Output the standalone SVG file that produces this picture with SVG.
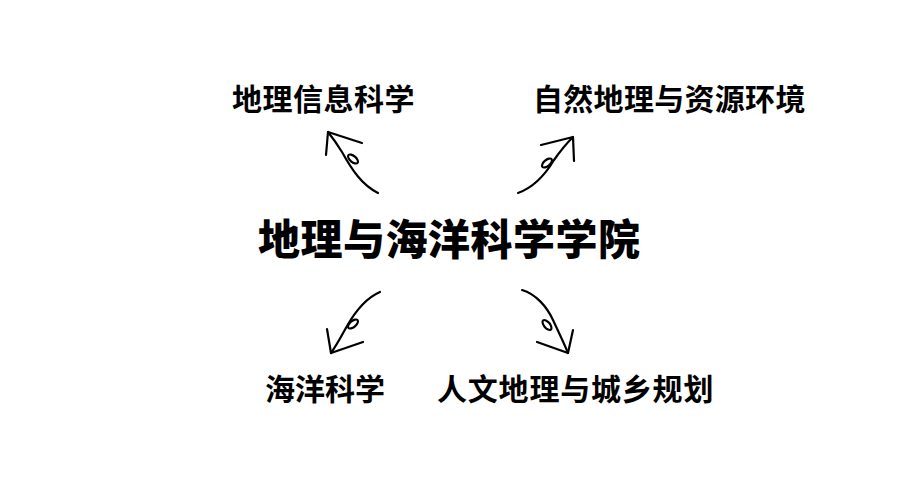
<svg xmlns="http://www.w3.org/2000/svg" width="900" height="500" viewBox="0 0 900 500">
<style>
text{font-family:"Noto Sans CJK SC","Noto Sans CJK JP",sans-serif;fill:#000;dominant-baseline:central}
.lbl{font-size:30px;font-weight:700}
.title{font-size:42px;font-weight:900}
.arr path,.arr ellipse{fill:none;stroke:#000;stroke-width:2.2;stroke-linecap:round;stroke-linejoin:round}
</style>
<rect width="900" height="500" fill="#fff"/>
<g id="center"><text class="title" x="258" y="236" letter-spacing="0.5">地理与海洋科学学院</text></g>
<g id="gis"><text class="lbl" x="232" y="97" letter-spacing="0.5">地理信息科学</text></g>
<g id="physical"><text class="lbl" x="533" y="97" letter-spacing="0.3">自然地理与资源环境</text></g>
<g id="ocean"><text class="lbl" x="265" y="387">海洋科学</text></g>
<g id="human"><text class="lbl" x="437" y="387" letter-spacing="0.8">人文地理与城乡规划</text></g>
<g id="connectors" class="arr">
  <path d="M378,193 C362,185 352,170 342,152 C337,144 332,137 328,132"/>
  <path d="M326,155 L328,132 L362,143"/>
  <ellipse cx="353" cy="159" rx="6" ry="3" transform="rotate(40 353 159)"/>
  <path d="M518,193 C532,188 545,175 554,160 C561,150 567,143 573,137"/>
  <path d="M541,145 L573,137 L574,161"/>
  <ellipse cx="547" cy="163" rx="6" ry="3" transform="rotate(-40 547 163)"/>
  <path d="M380,292 C366,298 355,312 347,326 C341,337 336,346 331,353"/>
  <path d="M327,329 L331,353 L363,342"/>
  <ellipse cx="353" cy="324" rx="6" ry="3" transform="rotate(-40 353 324)"/>
  <path d="M522,290 C536,294 547,307 553,320 C559,333 564,343 568,353"/>
  <path d="M573,330 L568,353 L537,342"/>
  <ellipse cx="547" cy="325" rx="6" ry="3" transform="rotate(50 547 325)"/>
</g>
</svg>
